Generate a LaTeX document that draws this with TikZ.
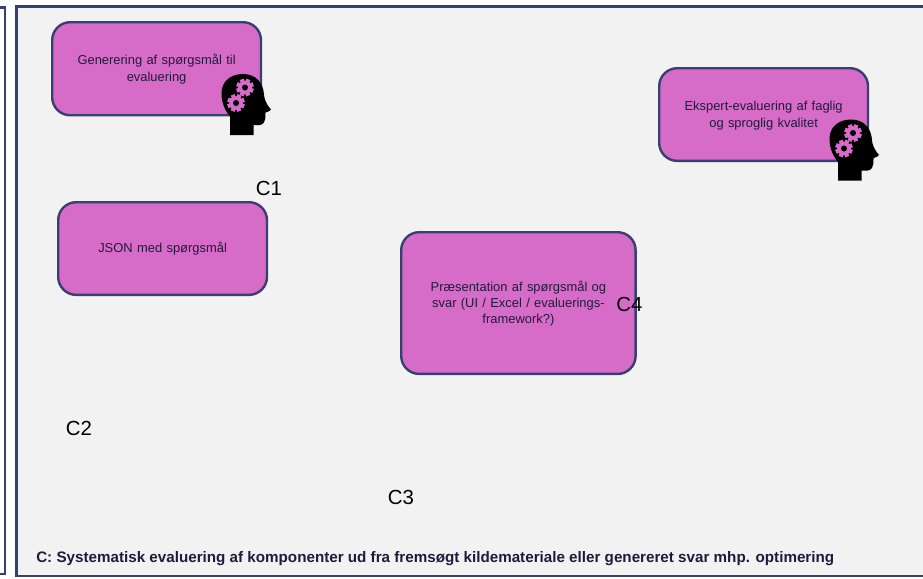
\documentclass[tikz,border=0pt]{standalone}
\usepackage{fontspec}
\setmainfont{Liberation Sans}
\definecolor{framec}{HTML}{37406E}
\definecolor{panelc}{HTML}{F2F2F2}
\definecolor{boxc}{HTML}{D76CC8}
\definecolor{inkc}{HTML}{1F1B3A}
\newcommand{\boxtext}{\fontsize{9.7pt}{12.3pt}\selectfont}
\newcommand{\clabel}{\fontsize{15.3pt}{17pt}\selectfont}
\tikzset{
  roundbox/.style={draw=framec,fill=boxc,line width=1.8pt,rounded corners=13.5pt,inner sep=0pt,anchor=north west,align=center,text=inkc,font=\boxtext},
  tag/.style={inner sep=0pt,font=\clabel,text=black},
  gearfill/.style={fill=boxc,draw=none},
  headicon/.pic={
    \fill[black] (30,75) -- (30,56.5) .. controls (25,50.5) and (21.5,43) .. (21.5,33)
      .. controls (21.5,22) and (30,14) .. (43,14)
      .. controls (56,14) and (63.5,23) .. (64,35)
      .. controls (64.5,39) and (66,44) .. (71,49.5)
      .. controls (70,51) and (68,52) .. (65.5,52.5)
      .. controls (65.5,57) and (65.5,60) .. (64,62.5)
      .. controls (62,65.5) and (58,65.5) .. (53.5,65) -- (53.5,75) -- cycle;
    \foreach \cx/\cy in {45/27.5,36/43} {
      \fill[gearfill] (\cx,\cy) circle[radius=6.8];
      \foreach \a in {0,45,...,315} {
        \fill[gearfill,shift={(\cx,\cy)},rotate=\a+22] (-2.1,-8.8) rectangle (2.1,0);
      }
      \fill[black] (\cx,\cy) circle[radius=3];
    }
  }
}
\newcommand{\tallfirst}{\rule{0pt}{8.6pt}}
\begin{document}
\begin{tikzpicture}[x=0.75pt,y=-0.75pt]
\useasboundingbox (0,0) rectangle (923,578);
\fill[white] (0,0) rectangle (923,578);
\coordinate (pa) at (-3,7.5);
\coordinate (pb) at (5,7.5);
\coordinate (pc) at (5,574);
\coordinate (pd) at (-3,574);
\draw[framec,line width=1.7pt] (pa) -- (pb) -- (pc) -- (pd);
\draw[framec,line width=2pt,fill=panelc] (927,6.5) -- (16.5,6.5) -- (16.5,576) -- (927,576);

\node[roundbox,minimum width=156.6pt,minimum height=69.8pt,text width=135pt] (gen) at (51,21) {\tallfirst Generering af spørgsmål til\\evaluering};
\node[roundbox,minimum width=156.6pt,minimum height=69.5pt,text width=135pt] (json) at (57,201) {\tallfirst JSON med spørgsmål};
\node[roundbox,minimum width=175.8pt,minimum height=106.3pt,text width=145pt] (pres) at (400,231) {\tallfirst Præsentation af spørgsmål og\\svar (UI / Excel / evaluerings-\\framework?)};
\node[roundbox,minimum width=156.6pt,minimum height=69.5pt,text width=135pt] (eksp) at (658,67) {\tallfirst Ekspert-evaluering af faglig\\og sproglig kvalitet};
\pic at (200,60) {headicon};
\pic at (808,105.5) {headicon};

\node[tag] (c1) at (269,188) {C1};
\node[tag] (c2) at (79,428) {C2};
\node[tag] (c3) at (401,497.5) {C3};
\node[tag] (c4) at (629.5,304.5) {C4};
\node[inner sep=0pt,anchor=west,font=\fontsize{11.4pt}{13pt}\selectfont\bfseries,text=inkc] (note) at (36,558.5) {C: Systematisk evaluering af komponenter ud fra fremsøgt kildemateriale eller genereret svar mhp. optimering};
\end{tikzpicture}
\end{document}
